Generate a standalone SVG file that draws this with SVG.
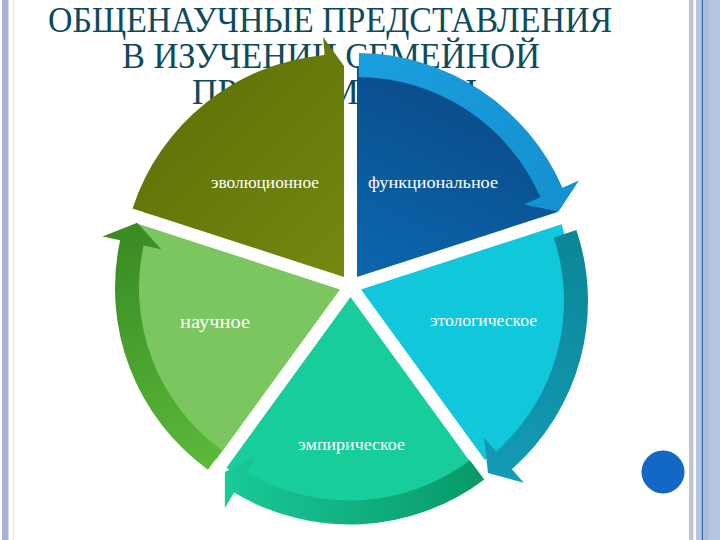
<svg xmlns="http://www.w3.org/2000/svg" width="720" height="540" viewBox="0 0 720 540">
<style>
.title{font-family:"Liberation Serif","DejaVu Serif",serif;font-size:35px;fill:#0d4b5c}
.lbl{font-family:"Liberation Serif","DejaVu Serif",serif;font-size:16px;fill:#ffffff;text-anchor:middle}
</style>
<defs>
<linearGradient id="gBlue" gradientUnits="userSpaceOnUse" x1="470" y1="80" x2="380" y2="277"><stop offset="0" stop-color="#0a4b88"/><stop offset="1" stop-color="#0b66ad"/></linearGradient>
<linearGradient id="gOlive" gradientUnits="userSpaceOnUse" x1="180" y1="110" x2="340" y2="275"><stop offset="0" stop-color="#617408"/><stop offset="1" stop-color="#73880f"/></linearGradient>
<linearGradient id="gBlueArr" gradientUnits="userSpaceOnUse" x1="360" y1="60" x2="560" y2="200"><stop offset="0" stop-color="#1a9fdf"/><stop offset="1" stop-color="#1491d1"/></linearGradient>
<linearGradient id="gTealArr" gradientUnits="userSpaceOnUse" x1="565" y1="230" x2="490" y2="470"><stop offset="0" stop-color="#0b8796"/><stop offset="1" stop-color="#139ab5"/></linearGradient>
<linearGradient id="gEmpArr" gradientUnits="userSpaceOnUse" x1="480" y1="480" x2="228" y2="485"><stop offset="0" stop-color="#08996a"/><stop offset="1" stop-color="#19c996"/></linearGradient>
<linearGradient id="gSciArr" gradientUnits="userSpaceOnUse" x1="212" y1="465" x2="125" y2="235"><stop offset="0" stop-color="#5cb93b"/><stop offset="1" stop-color="#398c22"/></linearGradient>
</defs>
<rect x="0" y="0" width="720" height="540" fill="#ffffff"/>
<g id="frame">
<rect x="2" y="0" width="6.5" height="540" fill="#a9b1d9"/>
<rect x="12.5" y="0" width="1.2" height="540" fill="#f1e6f1"/>
<rect x="689" y="0" width="4.5" height="540" fill="#bec6d6"/>
<rect x="696" y="0" width="24" height="540" fill="#b5c5e2"/>
<rect x="703" y="0" width="5.5" height="540" fill="#abbbdb"/>
<rect x="701.7" y="0" width="1.3" height="540" fill="#3d6db0"/>
</g>
<g id="title">
<text class="title" x="48" y="32" textLength="564" lengthAdjust="spacingAndGlyphs">ОБЩЕНАУЧНЫЕ ПРЕДСТАВЛЕНИЯ</text>
<text class="title" x="122" y="68" textLength="418" lengthAdjust="spacingAndGlyphs">В ИЗУЧЕНИИ СЕМЕЙНОЙ</text>
<text class="title" x="192" y="104" textLength="285" lengthAdjust="spacingAndGlyphs">ПРОБЛЕМАТИКИ</text>
</g>
<g id="node-functional">
<path d="M357,277.1 L357,66.1 A211,211 0 0 1 557.64,211.9 Z" fill="url(#gBlue)"/>
<text class="lbl" x="433" y="188" textLength="130" lengthAdjust="spacingAndGlyphs">функциональное</text>
</g>
<g id="node-ethological">
<path d="M360.96,289.4 L561.63,224.2 A211,211 0 0 1 484.98,460.1 Z" fill="#11c7dc"/>
<text class="lbl" x="483.5" y="326" textLength="107" lengthAdjust="spacingAndGlyphs">этологическое</text>
</g>
<g id="node-empirical">
<path d="M350.5,297 L474.52,467.7 A211,211 0 0 1 226.48,467.7 Z" fill="#17cd9b"/>
<text class="lbl" x="351.5" y="450" textLength="107" lengthAdjust="spacingAndGlyphs">эмпирическое</text>
</g>
<g id="node-scientific">
<path d="M340.04,289.4 L216.02,460.1 A211,211 0 0 1 139.37,224.2 Z" fill="#7cc660"/>
<text class="lbl" x="215" y="328" style="font-size:18px" textLength="70" lengthAdjust="spacingAndGlyphs">научное</text>
</g>
<g id="node-evolutionary">
<path d="M344.03,277.1 L143.36,211.9 A211,211 0 0 1 344.03,66.1 Z" fill="url(#gOlive)"/>
<text class="lbl" x="265" y="188" textLength="108" lengthAdjust="spacingAndGlyphs">эволюционное</text>
</g>
<g id="connectors">
<path d="M358.96,53.11 A224,224 0 0 1 562.42,187.78 L578.93,180.6 L558.62,211.59 L523.9,204.53 L540.41,197.35 A200,200 0 0 0 358.75,77.11 Z" fill="url(#gBlueArr)"/>
<path d="M576.42,229.92 A224,224 0 0 1 511.86,469.25 L523.75,482.77 L488.01,472.94 L484.14,437.7 L496.02,451.22 A200,200 0 0 0 553.66,237.54 Z" fill="url(#gTealArr)"/>
<path d="M484.31,479.4 A224,224 0 0 1 234.13,492.51 L224.86,507.94 L224.89,472.01 L255.76,456.5 L246.49,471.93 A200,200 0 0 0 469.86,460.23 Z" fill="url(#gEmpArr)"/>
<path d="M207.97,469.68 A224,224 0 0 1 120.14,240.28 L102.55,236.45 L137.27,222.82 L161.18,249.23 L143.59,245.39 A200,200 0 0 0 222.01,450.21 Z" fill="url(#gSciArr)"/>
<path d="M132.6,208.4 A224,224 0 0 1 324.7,54.92 L323.07,37 L344,66 L328.51,96.75 L326.87,78.82 A200,200 0 0 0 153.8,215.3 Z" fill="url(#gOlive)"/>
</g>
<g id="badge">
<circle cx="663" cy="472" r="21" fill="#1367c6" stroke="#115db4" stroke-width="1"/>
</g>
</svg>
